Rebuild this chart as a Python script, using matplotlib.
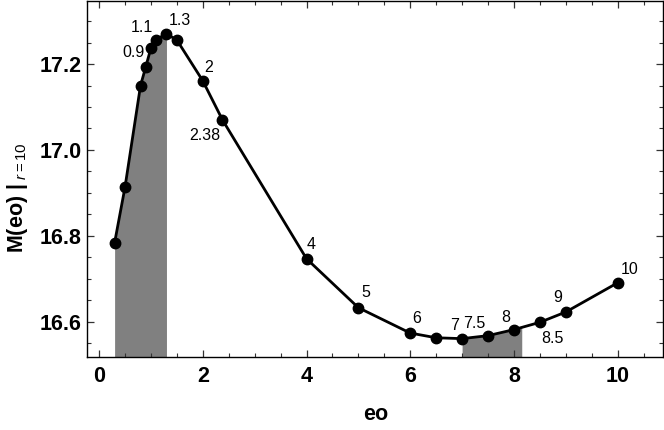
import numpy as np
import matplotlib
matplotlib.use('Agg')
import matplotlib.pyplot as plt
from matplotlib.ticker import MultipleLocator

plt.rcParams['font.family'] = ['Liberation Sans', 'DejaVu Sans']
plt.rcParams['mathtext.fontset'] = 'custom'
plt.rcParams['mathtext.rm'] = 'Liberation Sans'
plt.rcParams['mathtext.it'] = 'Liberation Sans:italic'
plt.rcParams['mathtext.bf'] = 'Liberation Sans:bold'

# data
eo = [0.3, 0.5, 0.8, 0.9, 1.0, 1.1, 1.3, 1.5, 2.0, 2.38, 4.0, 5.0, 6.0, 6.5, 7.0, 7.5, 8.0, 8.5, 9.0, 10.0]
M = [16.784, 16.913, 17.150, 17.193, 17.237, 17.257, 17.270, 17.256, 17.161, 17.070,
     16.747, 16.633, 16.574, 16.563, 16.561, 16.568, 16.582, 16.599, 16.623, 16.691]

# labelled points and label offsets (pixels)
lab_x = [0.9, 1.1, 1.3, 2.0, 2.38, 4.0, 5.0, 6.0, 7.0, 7.5, 8.0, 8.5, 9.0, 10.0]
lab_txt = ['0.9', '1.1', '1.3', '2', '2.38', '4', '5', '6', '7', '7.5', '8', '8.5', '9', '10']
lab_off = [(-12, 15), (-14, 12), (13, 13), (6, 13), (-18, -16), (5, 14), (7, 15), (6, 15),
           (-8, 13), (-14, 12), (-8, 12), (13, -16), (-8, 14), (12, 13)]

# shaded ranges
shade1 = (0.3, 1.3)
shade2 = (7.0, 8.15)

ymin, ymax = 16.519, 17.347

fig = plt.figure(figsize=(6.64, 4.30), dpi=100)
ax = fig.add_axes([0.1315, 0.1705, 0.8675, 0.8275])

for a, b in [shade1, shade2]:
    xs = np.linspace(a, b, 200)
    ax.fill_between(xs, np.interp(xs, eo, M), ymin, color='#808080', lw=0)

ax.plot(eo, M, color='black', lw=2.0, marker='o', ms=7.5, zorder=3)

for xv, t, (dx, dy) in zip(lab_x, lab_txt, lab_off):
    yv = M[eo.index(xv)]
    ax.annotate(t, (xv, yv), xytext=(dx * 0.72, dy * 0.72), textcoords='offset points',
                ha='center', va='center', fontsize=11.5)

ax.set_xlim(-0.226, 10.88)
ax.set_ylim(ymin, ymax)
ax.xaxis.set_major_locator(MultipleLocator(2))
ax.xaxis.set_minor_locator(MultipleLocator(0.5))
ax.yaxis.set_major_locator(MultipleLocator(0.2))
ax.yaxis.set_minor_locator(MultipleLocator(0.05))
ax.tick_params(which='both', direction='in', top=True, right=True, color='#333333')
ax.tick_params(which='major', length=5, width=0.9, labelsize=15.5)
ax.tick_params(axis='y', which='major', pad=4)
ax.tick_params(axis='x', which='major', pad=7)
ax.tick_params(which='minor', length=3, width=0.8)
for lbl in ax.get_xticklabels() + ax.get_yticklabels():
    lbl.set_fontweight('bold')
ax.yaxis.set_major_formatter(matplotlib.ticker.FormatStrFormatter('%.1f'))
for s in ax.spines.values():
    s.set_linewidth(1.0)

ax.set_xlabel('eo', fontsize=15.5, fontweight='bold', labelpad=12)
ax.set_ylabel(r'$\mathbf{M(eo)\ |}_{\ \mathit{r=10}}$', fontsize=15.5)
ax.yaxis.set_label_coords(-0.099, 0.446)

fig.savefig('out.png', dpi=100)
